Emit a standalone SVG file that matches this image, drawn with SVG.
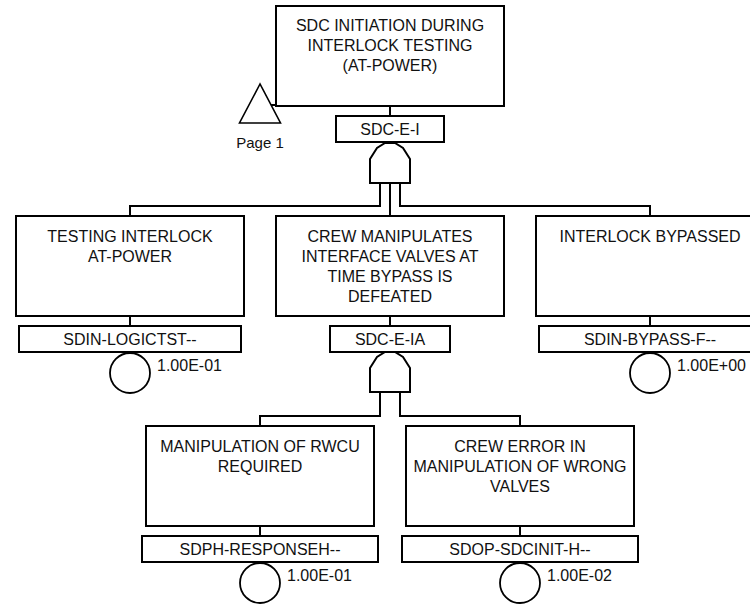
<svg xmlns="http://www.w3.org/2000/svg" width="750" height="605" viewBox="0 0 750 605">
<style>
.box{fill:#fff;stroke:#000;stroke-width:2}
.lbl{fill:#fff;stroke:#000;stroke-width:2}
.gate{fill:#fff;stroke:#000;stroke-width:2;stroke-linejoin:miter}
.be{fill:#fff;stroke:#000;stroke-width:1.8}
.tri{fill:#fff;stroke:#000;stroke-width:1.6}
.con{fill:none;stroke:#000;stroke-width:2}
text{font-family:"Liberation Sans",Arial,sans-serif;font-size:16px;fill:#111}
.c{text-anchor:middle}
.p{font-size:15px}
</style>
<rect width="750" height="605" fill="#fff"/>
<g id="connectors">
<path class="con" d="M390,106 V116"/>
<path class="con" d="M380,183 V206 H130 V216"/>
<path class="con" d="M390,183 V216"/>
<path class="con" d="M400,183 V206 H650 V216"/>
<path class="con" d="M130,316 V326"/>
<path class="con" d="M390,316 V326"/>
<path class="con" d="M650,316 V326"/>
<path class="con" d="M380,392 V416 H260 V426"/>
<path class="con" d="M400,392 V416 H520 V426"/>
<path class="con" d="M260,526 V536"/>
<path class="con" d="M520,526 V536"/>
<path class="con" d="M270,105 H276"/>
</g>
<g id="page1">
<polygon class="tri" points="260,84 239.5,123 280.5,123"/>
<text class="c p" x="260" y="148">Page 1</text>
</g>
<g id="SDC-E-I">
<rect class="box" x="276" y="6" width="228" height="100"/>
<text class="c" x="390" y="31">SDC INITIATION DURING</text>
<text class="c" x="390" y="51">INTERLOCK TESTING</text>
<text class="c" x="390" y="71">(AT-POWER)</text>
<rect class="lbl" x="336" y="116" width="108" height="26"/>
<text class="c" x="390" y="135">SDC-E-I</text>
<path class="gate" d="M370,183 V159 L377,148 L385,143 H395 L403,148 L410,159 V183 Z"/>
</g>
<g id="SDIN-LOGICTST">
<rect class="box" x="16" y="216" width="228" height="100"/>
<text class="c" x="130" y="242">TESTING INTERLOCK</text>
<text class="c" x="130" y="262">AT-POWER</text>
<rect class="lbl" x="19" y="326" width="222" height="26"/>
<text class="c" x="130" y="345">SDIN-LOGICTST--</text>
<circle class="be" cx="130" cy="373" r="20"/>
<text x="157" y="371">1.00E-01</text>
</g>
<g id="SDC-E-IA">
<rect class="box" x="276" y="216" width="228" height="100"/>
<text class="c" x="390" y="242">CREW MANIPULATES</text>
<text class="c" x="390" y="262">INTERFACE VALVES AT</text>
<text class="c" x="390" y="282">TIME BYPASS IS</text>
<text class="c" x="390" y="302">DEFEATED</text>
<rect class="lbl" x="330" y="326" width="120" height="26"/>
<text class="c" x="390" y="345">SDC-E-IA</text>
<path class="gate" d="M370,392 V368 L377,357 L385,352 H395 L403,357 L410,368 V392 Z"/>
</g>
<g id="SDIN-BYPASS-F">
<rect class="box" x="536" y="216" width="228" height="100"/>
<text class="c" x="650" y="242">INTERLOCK BYPASSED</text>
<rect class="lbl" x="539" y="326" width="222" height="26"/>
<text class="c" x="650" y="345">SDIN-BYPASS-F--</text>
<circle class="be" cx="650" cy="373" r="20"/>
<text x="677" y="371">1.00E+00</text>
</g>
<g id="SDPH-RESPONSEH">
<rect class="box" x="146" y="426" width="228" height="100"/>
<text class="c" x="260" y="452">MANIPULATION OF RWCU</text>
<text class="c" x="260" y="472">REQUIRED</text>
<rect class="lbl" x="142" y="536" width="236" height="26"/>
<text class="c" x="260" y="555">SDPH-RESPONSEH--</text>
<circle class="be" cx="260" cy="583" r="20"/>
<text x="287" y="581">1.00E-01</text>
</g>
<g id="SDOP-SDCINIT-H">
<rect class="box" x="406" y="426" width="228" height="100"/>
<text class="c" x="520" y="452">CREW ERROR IN</text>
<text class="c" x="520" y="472">MANIPULATION OF WRONG</text>
<text class="c" x="520" y="492">VALVES</text>
<rect class="lbl" x="402" y="536" width="236" height="26"/>
<text class="c" x="520" y="555">SDOP-SDCINIT-H--</text>
<circle class="be" cx="520" cy="583" r="20"/>
<text x="547" y="581">1.00E-02</text>
</g>
</svg>
